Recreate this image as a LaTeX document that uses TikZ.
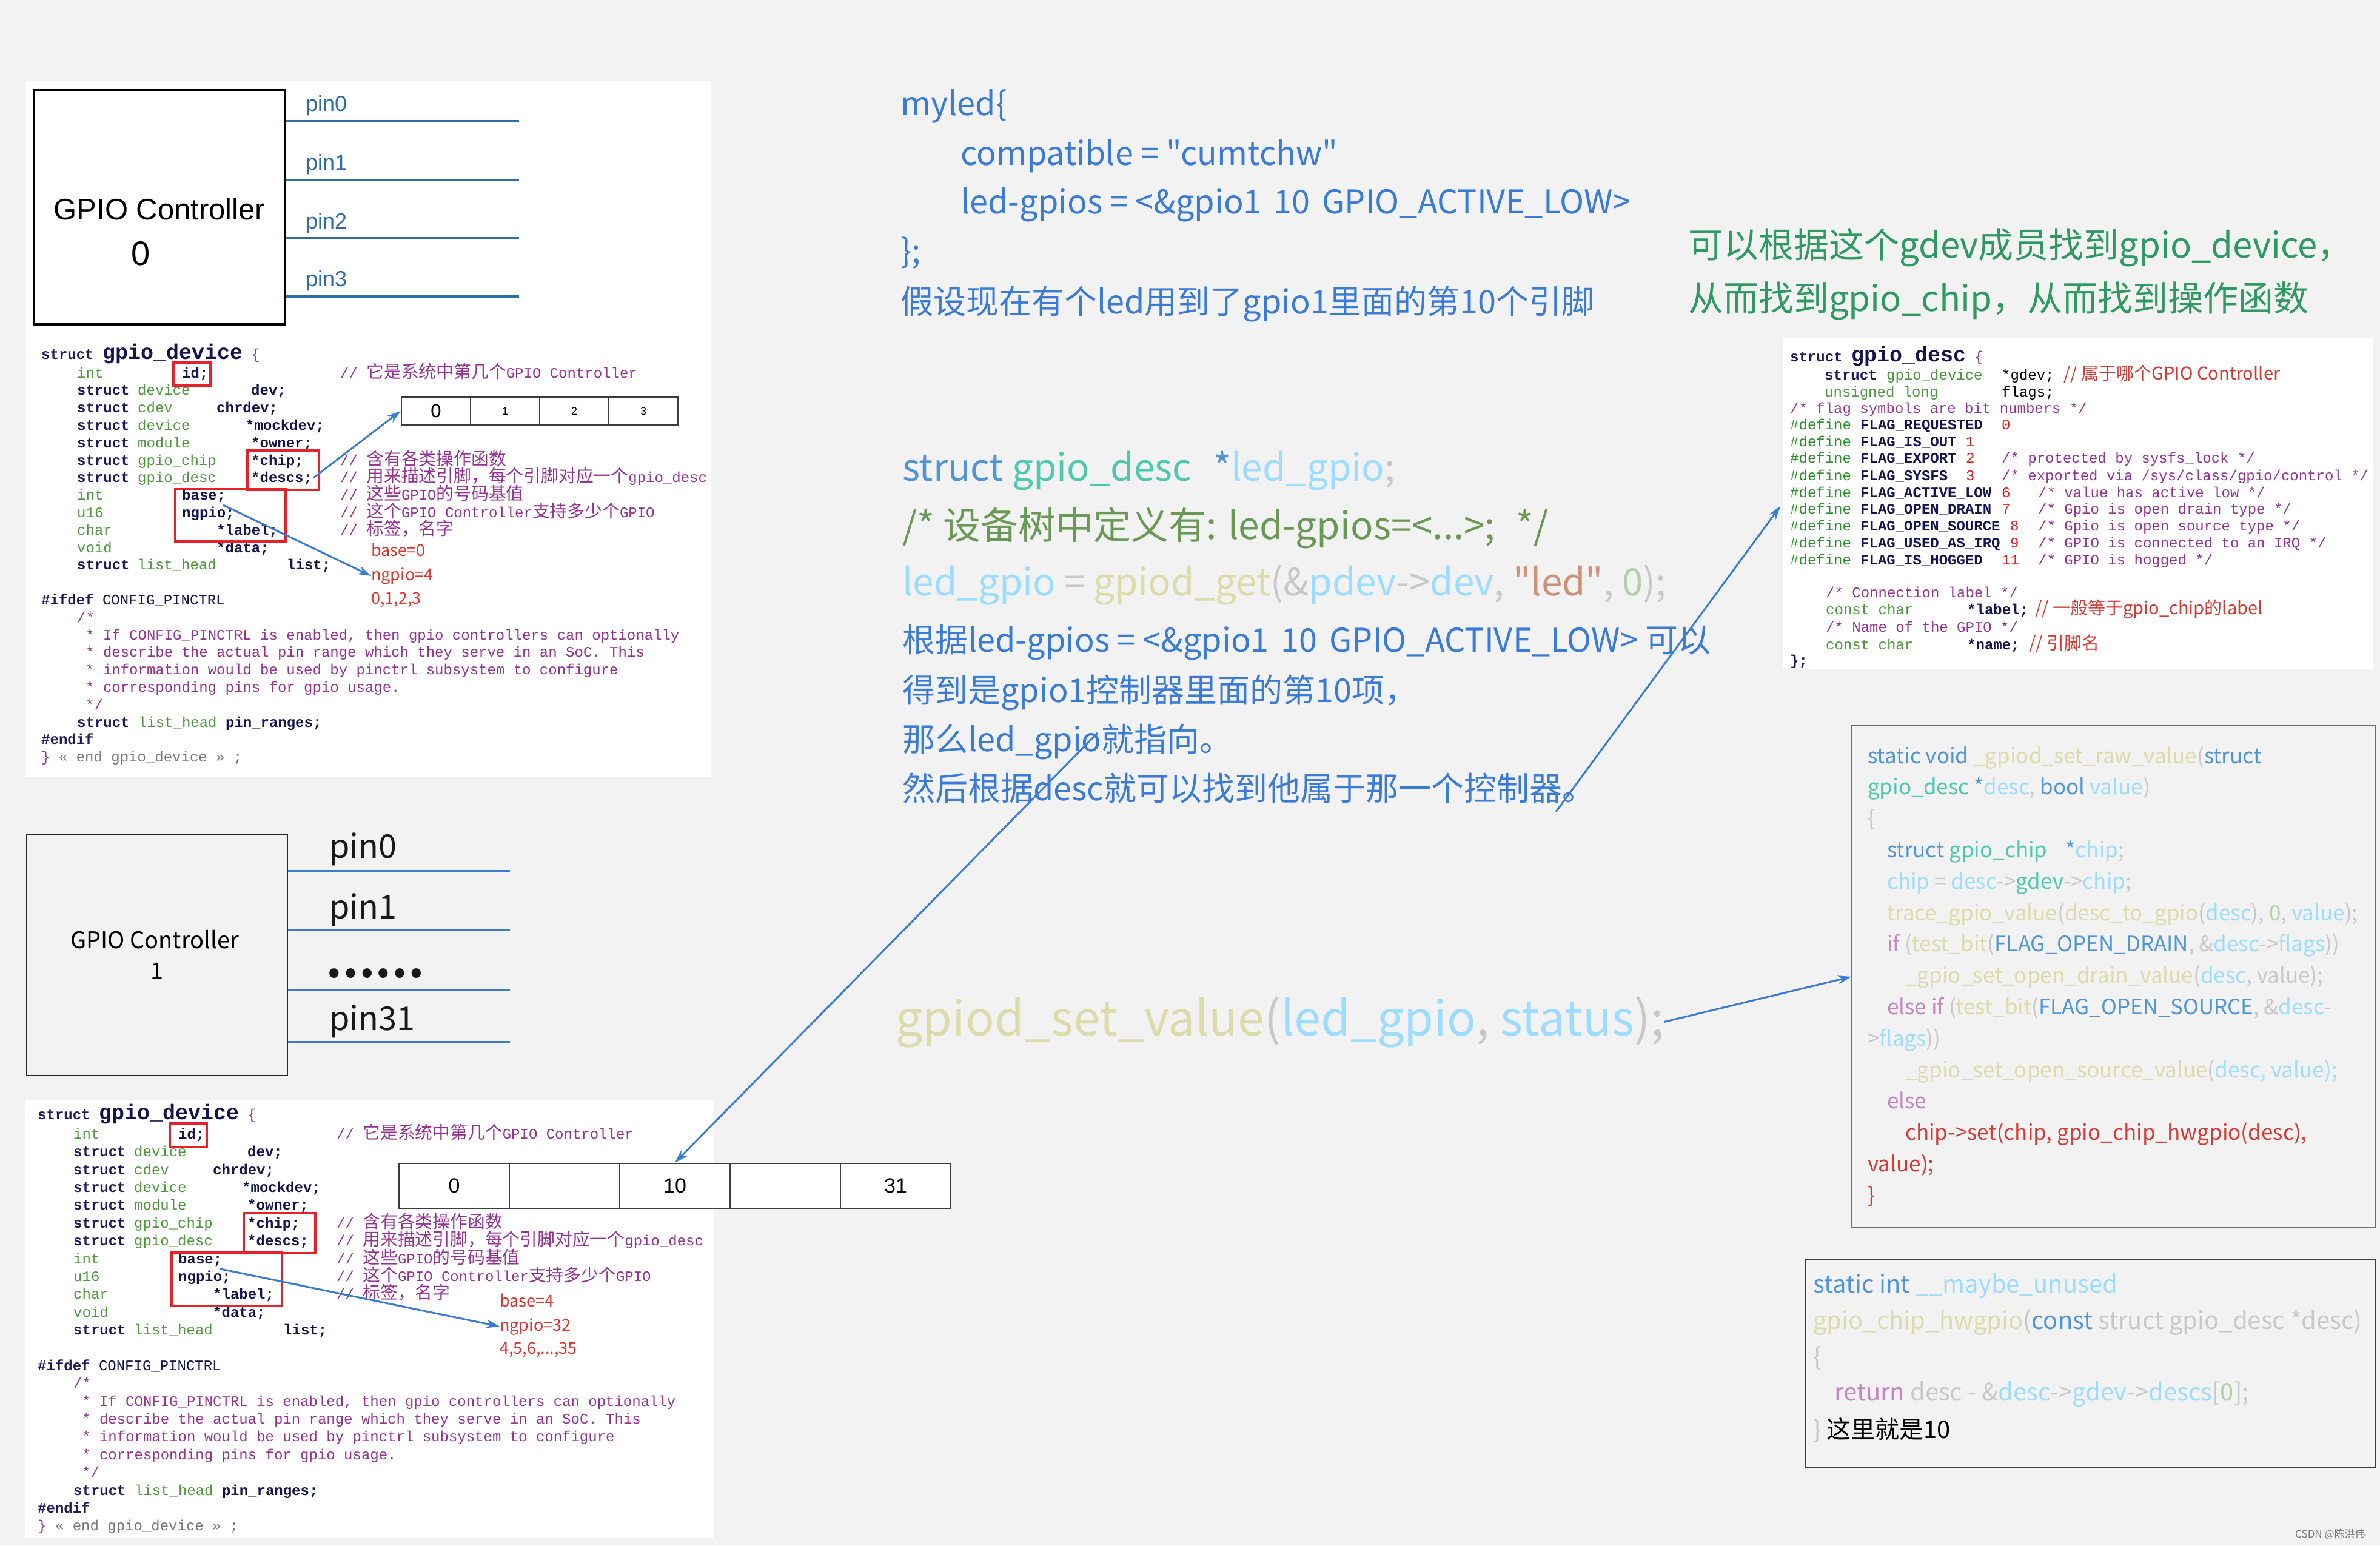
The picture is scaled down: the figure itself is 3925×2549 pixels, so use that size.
\documentclass[tikz,border=0pt]{standalone}
\usepackage{fontspec}
\usetikzlibrary{arrows.meta}
\setmainfont{Noto Sans CJK SC}[Ligatures=TeXOff]
\newfontfamily\cjk{Noto Sans CJK SC}[Ligatures=TeXOff]
\newfontfamily\monof{Liberation Mono}[Ligatures=TeXOff]
\newfontfamily\arialf{Liberation Sans}
\newcommand\sz[1]{\fontsize{#1}{#1}\selectfont}
\newcommand\cbx[2]{\makebox[#1pt][l]{#2}}
\definecolor{bgc}{RGB}{242,242,242}
\definecolor{mkw}{RGB}{28,28,95}
\definecolor{mty}{RGB}{76,153,60}
\definecolor{mva}{RGB}{20,20,80}
\definecolor{mcm}{RGB}{150,50,150}
\definecolor{mdf}{RGB}{40,145,40}
\definecolor{mnum}{RGB}{228,30,30}
\definecolor{mgray}{RGB}{120,120,120}
\definecolor{vkw}{RGB}{80,150,214}
\definecolor{vfn}{RGB}{220,220,170}
\definecolor{vty}{RGB}{78,201,176}
\definecolor{vva}{RGB}{156,220,254}
\definecolor{vpu}{RGB}{200,200,200}
\definecolor{vnu}{RGB}{181,206,168}
\definecolor{vct}{RGB}{197,134,192}
\definecolor{vst}{RGB}{206,145,120}
\definecolor{vcm}{RGB}{106,153,85}
\definecolor{vrd}{RGB}{215,58,52}
\definecolor{tblue}{RGB}{58,123,213}
\definecolor{tgreen}{RGB}{46,154,98}
\definecolor{arrc}{RGB}{58,123,213}
\definecolor{pinc}{RGB}{46,110,165}
\definecolor{redb}{RGB}{232,32,42}
\definecolor{annr}{RGB}{225,50,45}
\newcommand\mK[1]{\textbf{\color{mkw}#1}}
\newcommand\mT[1]{\textcolor{mty}{#1}}
\newcommand\mV[1]{\textbf{\color{mva}#1}}
\newcommand\mC[1]{\textcolor{mcm}{#1}}
\newcommand\mD[1]{\textcolor{mdf}{#1}}
\newcommand\mN[1]{\textcolor{mnum}{#1}}
\newcommand\mZ[1]{{\cjk\sz{28.8}#1}}
\newcommand\vK[1]{\textcolor{vkw}{#1}}
\newcommand\vF[1]{\textcolor{vfn}{#1}}
\newcommand\vT[1]{\textcolor{vty}{#1}}
\newcommand\vV[1]{\textcolor{vva}{#1}}
\newcommand\vP[1]{\textcolor{vpu}{#1}}
\newcommand\vN[1]{\textcolor{vnu}{#1}}
\newcommand\vC[1]{\textcolor{vct}{#1}}
\newcommand\vS[1]{\textcolor{vst}{#1}}
\newcommand\vM[1]{\textcolor{vcm}{#1}}
\newcommand\vR[1]{\textcolor{vrd}{#1}}
\newcommand\rcm[1]{{\cjk\sz{29}\color{vrd}#1}}
\tikzset{
  txt/.style={inner sep=0pt, anchor=base west},
  mono/.style={txt, font=\monof\sz{24}},
  arr/.style={draw=arrc, line width=3pt, -{Stealth[length=22pt,width=14pt]}},
  redbox/.style={draw=redb, line width=4pt},
  cellbox/.style={draw={rgb,255:red,60;green,60;blue,60}, line width=2.5pt, fill=white, inner sep=0pt},
  pinline/.style={draw=pinc, line width=3.5pt},
  pinline2/.style={draw=tblue, line width=3pt},
  ann/.style={txt, text=annr, font=\sz{27}},
  fbl/.style={txt, font=\sz{35}},
  hbl/.style={txt, font=\sz{40}},
  mid/.style={txt, text=tblue, font=\sz{54}},
}
\newcommand\gdblock[1]{%
\node[mono] (#1l0) at (68,592) {\mK{struct} {\sz{35}\mV{gpio\_device}} \mC{\{}};
\node[mono] (#1l1) at (127,623) {\cbx{173}{\mT{int}}\cbx{261}{\mV{id;}}\mC{// \mZ{它是系统中第几个}GPIO Controller}};
\node[mono] (#1l2) at (127,651.8) {\cbx{100}{\mK{struct}}\cbx{187}{\mT{device}}\mV{dev;}};
\node[mono] (#1l3) at (127,680.6) {\cbx{100}{\mK{struct}}\cbx{130}{\mT{cdev}}\mV{chrdev;}};
\node[mono] (#1l4) at (127,709.4) {\cbx{100}{\mK{struct}}\cbx{178}{\mT{device}}\mV{*mockdev;}};
\node[mono] (#1l5) at (127,738.2) {\cbx{100}{\mK{struct}}\cbx{187}{\mT{module}}\mV{*owner;}};
\node[mono] (#1l6) at (127,767) {\cbx{100}{\mK{struct}}\cbx{187}{\mT{gpio\_chip}}\cbx{147}{\mV{*chip;}}\mC{// \mZ{含有各类操作函数}}};
\node[mono] (#1l7) at (127,795.8) {\cbx{100}{\mK{struct}}\cbx{187}{\mT{gpio\_desc}}\cbx{147}{\mV{*descs;}}\mC{// \mZ{用来描述引脚，每个引脚对应一个}gpio\_desc}};
\node[mono] (#1l8) at (127,824.6) {\cbx{173}{\mT{int}}\cbx{261}{\mV{base;}}\mC{// \mZ{这些}GPIO\mZ{的号码基值}}};
\node[mono] (#1l9) at (127,853.4) {\cbx{173}{\mT{u16}}\cbx{261}{\mV{ngpio;}}\mC{// \mZ{这个}GPIO Controller\mZ{支持多少个}GPIO}};
\node[mono] (#1l10) at (127,882.2) {\cbx{230}{\mT{char}}\cbx{204}{\mV{*label;}}\mC{// \mZ{标签，名字}}};
\node[mono] (#1l11) at (127,911) {\cbx{230}{\mT{void}}\mV{*data;}};
\node[mono] (#1l12) at (127,939.8) {\cbx{100}{\mK{struct}}\cbx{246}{\mT{list\_head}}\mV{list;}};
\node[mono] (#1l13) at (68,997.4) {\mK{\#ifdef} {\color{mva}CONFIG\_PINCTRL}};
\node[mono] (#1l14) at (127,1026.2) {\mC{/*}};
\node[mono] (#1l15) at (141,1055) {\mC{* If CONFIG\_PINCTRL is enabled, then gpio controllers can optionally}};
\node[mono] (#1l16) at (141,1083.8) {\mC{* describe the actual pin range which they serve in an SoC. This}};
\node[mono] (#1l17) at (141,1112.6) {\mC{* information would be used by pinctrl subsystem to configure}};
\node[mono] (#1l18) at (141,1141.4) {\mC{* corresponding pins for gpio usage.}};
\node[mono] (#1l19) at (141,1170.2) {\mC{*/}};
\node[mono] (#1l20) at (127,1199) {\mK{struct} \mT{list\_head} \mV{pin\_ranges;}};
\node[mono] (#1l21) at (68,1227.8) {\mK{\#endif}};
\node[mono] (#1l22) at (68,1256.6) {\mC{\}} {\color{mgray}« end gpio\_device » ;}};
\draw[redbox] (286,598) rectangle (347,636);
\draw[redbox] (408,743) rectangle (526,808);
\draw[redbox] (289,807) rectangle (471,893);
\coordinate (#1ng) at (368,833);
\coordinate (#1ds) at (517,788);
}
\begin{document}
\begin{tikzpicture}[x=1pt,y=-1pt]
\fill[bgc] (0,0) rectangle (3925,2549);
\useasboundingbox (0,0) rectangle (3925,2549);
% white panels
\fill[white] (43,133) rectangle (1172,1282);
\fill[white] (42,1815) rectangle (1178,2536);
\fill[white] (2940,557) rectangle (3913,1104);

% GPIO controller 0
\node[draw=black, line width=4.5pt, minimum width=414pt, minimum height=387pt, inner sep=0pt] (gc0) at (263,341.5) {};
\node[inner sep=0pt, font=\arialf\sz{49}] (gc0a) at (263,345) {GPIO Controller};
\node[inner sep=0pt, font=\arialf\sz{56}] (gc0b) at (232,418) {0};
\foreach \i/\yl/\yt in {0/200/183,1/297/280,2/393/377,3/489/472}{
  \coordinate (p\i e) at (856,\yl);
  \draw[pinline] (gc0.east |- p\i e) -- (p\i e);
  \node[txt, text=pinc, font=\arialf\sz{36}] (p\i l) at (504,\yt) {pin\i};
}

% top code block
\gdblock{t}
% top array
\node[cellbox, minimum width=114pt, minimum height=47pt, font=\arialf\sz{31}] (ta0) at (719,678) {0};
\node[cellbox, minimum width=114pt, minimum height=47pt, font=\arialf\sz{18}] (ta1) at (833,678) {1};
\node[cellbox, minimum width=114pt, minimum height=47pt, font=\arialf\sz{18}] (ta2) at (947,678) {2};
\node[cellbox, minimum width=114pt, minimum height=47pt, font=\arialf\sz{18}] (ta3) at (1061,678) {3};
\node[ann] (tbase) at (612,917) {base=0};
\node[ann] (tngv) at (612,957) {ngpio=4};
\node[ann] (tlist) at (612,996) {0,1,2,3};
\draw[arr] (tds) -- (ta0.west);
\draw[arr] (tng) -- (tngv.west);

% GPIO controller 1
\node[draw={rgb,255:red,40;green,40;blue,40}, line width=2.5pt, minimum width=430pt, minimum height=397pt, inner sep=0pt] (gc1) at (259,1575.5) {};
\node[inner sep=0pt, font=\sz{38}] (gc1a) at (255,1550) {GPIO Controller};
\node[inner sep=0pt, font=\sz{38}] (gc1b) at (259,1602) {1};
\foreach \i/\yl in {0/1436,1/1534,2/1633,3/1718}{
  \coordinate (q\i e) at (841,\yl);
  \draw[pinline2] (gc1.east |- q\i e) -- (q\i e);
}
\node[txt, font=\sz{54}, text={rgb,255:red,25;green,25;blue,25}] (q0l) at (543,1415) {pin0};
\node[txt, font=\sz{54}, text={rgb,255:red,25;green,25;blue,25}] (q1l) at (543,1515) {pin1};
\node[inner sep=0pt, anchor=west, font=\cjk\bfseries\sz{72}, text={rgb,255:red,25;green,25;blue,25}] (q2l) at (537,1606) {……};
\node[txt, font=\sz{54}, text={rgb,255:red,25;green,25;blue,25}] (q3l) at (543,1699) {pin31};

% bottom code block
\begin{scope}[shift={(-6,1243)}, yscale=1.02]
\gdblock{b}
\end{scope}
\node[cellbox, minimum width=182pt, minimum height=74pt, font=\arialf\sz{34}] (ba0) at (749,1956) {0};
\node[cellbox, minimum width=182pt, minimum height=74pt, font=\arialf\sz{34}] (ba1) at (931,1956) {};
\node[cellbox, minimum width=182pt, minimum height=74pt, font=\arialf\sz{34}] (ba2) at (1113,1956) {10};
\node[cellbox, minimum width=182pt, minimum height=74pt, font=\arialf\sz{34}] (ba3) at (1295,1956) {};
\node[cellbox, minimum width=182pt, minimum height=74pt, font=\arialf\sz{34}] (ba4) at (1477,1956) {31};
\node[ann] (bbase) at (824,2155) {base=4};
\node[ann] (bngv) at (824,2195) {ngpio=32};
\node[ann] (blist) at (824,2233) {4,5,6,...,35};
\draw[arr] (bng) -- (bngv.west);

% middle texts
\node[mid] (m1) at (1485,190) {myled\{};
\node[mid] (m2) at (1584,272) {compatible = "cumtchw"};
\node[mid] (m3) at (1584,352) {led-gpios = <\&gpio1\hspace{20pt}10\hspace{20pt}GPIO\_ACTIVE\_LOW>};
\node[mid] (m4) at (1485,433) {\};};
\node[mid] (m5) at (1485,517) {假设现在有个led用到了gpio1里面的第10个引脚};
\node[txt, text=tgreen, font=\sz{58}] (g1) at (2784,425) {可以根据这个gdev成员找到gpio\_device，};
\node[txt, text=tgreen, font=\sz{58}] (g2) at (2784,513) {从而找到gpio\_chip，从而找到操作函数};

\node[txt, font=\sz{62}] (c1) at (1488,793) {\vK{struct} \vT{gpio\_desc}\hspace{36pt}\vK{*}\vV{led\_gpio}\vP{;}};
\node[txt, font=\sz{62}] (c2) at (1488,889) {\vM{/* 设备树中定义有: led-gpios=<...>;\hspace{34pt}*/}};
\node[txt, font=\sz{62}] (c3) at (1488,982) {\vV{led\_gpio} \vP{=} \vF{gpiod\_get}\vP{(\&}\vV{pdev}\vP{->}\vV{dev}\vP{,} \vS{"led"}\vP{,} \vN{0}\vP{);}};
\node[mid] (c4) at (1488,1075) {根据led-gpios = <\&gpio1\hspace{20pt}10\hspace{20pt}GPIO\_ACTIVE\_LOW> 可以};
\node[mid] (c5) at (1488,1158) {得到是gpio1控制器里面的第10项，};
\node[mid] (c6) at (1488,1239) {那么led\_gpio就指向。};
\node[mid] (c7) at (1488,1320) {然后根据desc就可以找到他属于那一个控制器。};

\node[txt, font=\sz{79}] (sv) at (1477,1708) {\vF{gpiod\_set\_value}\vP{(}\vV{led\_gpio}\vP{,} \vV{status}\vP{);}};

% right gpio_desc block
\node[mono] (r0) at (2952,596) {\mK{struct} {\sz{35}\mV{gpio\_desc}} \mC{\{}};
\node[mono] (r1) at (3009,626) {\cbx{102}{\mK{struct}}\cbx{190}{\mT{gpio\_device}}\cbx{102}{*gdev;}\rcm{// 属于哪个GPIO Controller}};
\node[mono] (r2) at (3009,654) {\cbx{292}{\mT{unsigned long}}flags;};
\node[mono] (r3) at (2952,681) {\mC{/* flag symbols are bit numbers */}};
\node[mono] (r4) at (2952,708) {\cbx{116}{\mD{\#define}}\cbx{233}{\mV{FLAG\_REQUESTED}}\mN{0}};
\node[mono] (r5) at (2952,736) {\cbx{116}{\mD{\#define}}\cbx{174}{\mV{FLAG\_IS\_OUT}}\mN{1}};
\node[mono] (r6) at (2952,763) {\cbx{116}{\mD{\#define}}\cbx{174}{\mV{FLAG\_EXPORT}}\cbx{59}{\mN{2}}\mC{/* protected by sysfs\_lock */}};
\node[mono] (r7) at (2952,792) {\cbx{116}{\mD{\#define}}\cbx{174}{\mV{FLAG\_SYSFS}}\cbx{59}{\mN{3}}\mC{/* exported via /sys/class/gpio/control */}};
\node[mono] (r8) at (2952,820) {\cbx{116}{\mD{\#define}}\cbx{233}{\mV{FLAG\_ACTIVE\_LOW}}\cbx{60}{\mN{6}}\mC{/* value has active low */}};
\node[mono] (r9) at (2952,847) {\cbx{116}{\mD{\#define}}\cbx{233}{\mV{FLAG\_OPEN\_DRAIN}}\cbx{60}{\mN{7}}\mC{/* Gpio is open drain type */}};
\node[mono] (r10) at (2952,875) {\cbx{116}{\mD{\#define}}\cbx{247}{\mV{FLAG\_OPEN\_SOURCE}}\cbx{46}{\mN{8}}\mC{/* Gpio is open source type */}};
\node[mono] (r11) at (2952,903) {\cbx{116}{\mD{\#define}}\cbx{247}{\mV{FLAG\_USED\_AS\_IRQ}}\cbx{46}{\mN{9}}\mC{/* GPIO is connected to an IRQ */}};
\node[mono] (r12) at (2952,931) {\cbx{116}{\mD{\#define}}\cbx{233}{\mV{FLAG\_IS\_HOGGED}}\cbx{60}{\mN{11}}\mC{/* GPIO is hogged */}};
\node[mono] (r13) at (3011,985) {\mC{/* Connection label */}};
\node[mono] (r14) at (3011,1013) {\cbx{233}{\mT{const char}}\cbx{112}{\mV{*label;}}\rcm{// 一般等于gpio\_chip的label}};
\node[mono] (r15) at (3011,1042) {\mC{/* Name of the GPIO */}};
\node[mono] (r16) at (3011,1071) {\cbx{233}{\mT{const char}}\cbx{102}{\mV{*name;}}\rcm{// 引脚名}};
\node[mono] (r17) at (2952,1097) {\mV{\};}};

% function box
\node[draw={rgb,255:red,110;green,110;blue,110}, line width=2pt, minimum width=864pt, minimum height=828pt, inner sep=0pt] (fb) at (3486,1611) {};
\node[fbl] (f1) at (3080,1259) {\vK{static void} \vF{\_gpiod\_set\_raw\_value}\vP{(}\vK{struct}};
\node[fbl] (f2) at (3080,1310.8) {\vT{gpio\_desc} \vK{*}\vV{desc}\vP{,} \vK{bool} \vV{value}\vP{)}};
\node[fbl] (f3) at (3080,1362.6) {\vP{\{}};
\node[fbl] (f4) at (3112,1414.4) {\vK{struct} \vT{gpio\_chip}\hspace{30pt}\vK{*}\vV{chip}\vP{;}};
\node[fbl] (f5) at (3112,1466.2) {\vV{chip} \vP{=} \vV{desc}\vP{->}\vT{gdev}\vP{->}\vV{chip}\vP{;}};
\node[fbl] (f6) at (3112,1518) {\vF{trace\_gpio\_value}\vP{(}\vF{desc\_to\_gpio}\vP{(}\vV{desc}\vP{),} \vN{0}\vP{,} \vV{value}\vP{);}};
\node[fbl] (f7) at (3112,1569.8) {\vC{if} \vP{(}\vF{test\_bit}\vP{(}\vK{FLAG\_OPEN\_DRAIN}\vP{, \&}\vV{desc}\vP{->}\vV{flags}\vP{))}};
\node[fbl] (f8) at (3142,1621.6) {\vF{\_gpio\_set\_open\_drain\_value}\vP{(}\vV{desc}\vP{, value);}};
\node[fbl] (f9) at (3112,1673.4) {\vC{else if} \vP{(}\vF{test\_bit}\vP{(}\vK{FLAG\_OPEN\_SOURCE}\vP{, \&}\vV{desc}\vP{-}};
\node[fbl] (f10) at (3080,1725.2) {\vP{>}\vV{flags}\vP{))}};
\node[fbl] (f11) at (3142,1777) {\vF{\_gpio\_set\_open\_source\_value}\vP{(}\vV{desc, value);}};
\node[fbl] (f12) at (3112,1828.8) {\vC{else}};
\node[fbl] (f13) at (3142,1880.6) {\vR{chip->set(chip, gpio\_chip\_hwgpio(desc),}};
\node[fbl] (f14) at (3080,1932.4) {\vR{value);}};
\node[fbl] (f15) at (3080,1984.2) {\vR{\}}};

% hwgpio box
\node[draw={rgb,255:red,60;green,60;blue,60}, line width=2pt, minimum width=940pt, minimum height=342pt, inner sep=0pt] (hb) at (3448,2249) {};
\node[hbl] (h1) at (2990,2132) {\vK{static int} \vV{\_\_maybe\_unused}};
\node[hbl] (h2) at (2990,2192) {\vF{gpio\_chip\_hwgpio}\vP{(}\vK{const} \vP{struct gpio\_desc *desc)}};
\node[hbl] (h3) at (2990,2252) {\vP{\{}};
\node[hbl] (h4) at (3025,2310) {\vC{return} \vP{desc - \&}\vV{desc}\vP{->}\vV{gdev}\vP{->}\vV{descs}\vP{[}\vN{0}\vP{];}};
\node[hbl] (h5) at (2990,2372) {\vP{\}} \textcolor{black}{这里就是10}};

\node[txt, font=\sz{17}, text={rgb,255:red,120;green,120;blue,120}] (csdn) at (3785,2536) {CSDN @陈洪伟};

% connectors
\coordinate (a1s) at (2566,1339);
\coordinate (a1e) at (2936,835);
\draw[arr] (a1s) -- (a1e);
\coordinate (a2s) at (1810,1209);
\draw[arr] (a2s) -- (ba2.north);
\draw[arr] (sv.east) -- (fb.west);
\end{tikzpicture}
\end{document}
